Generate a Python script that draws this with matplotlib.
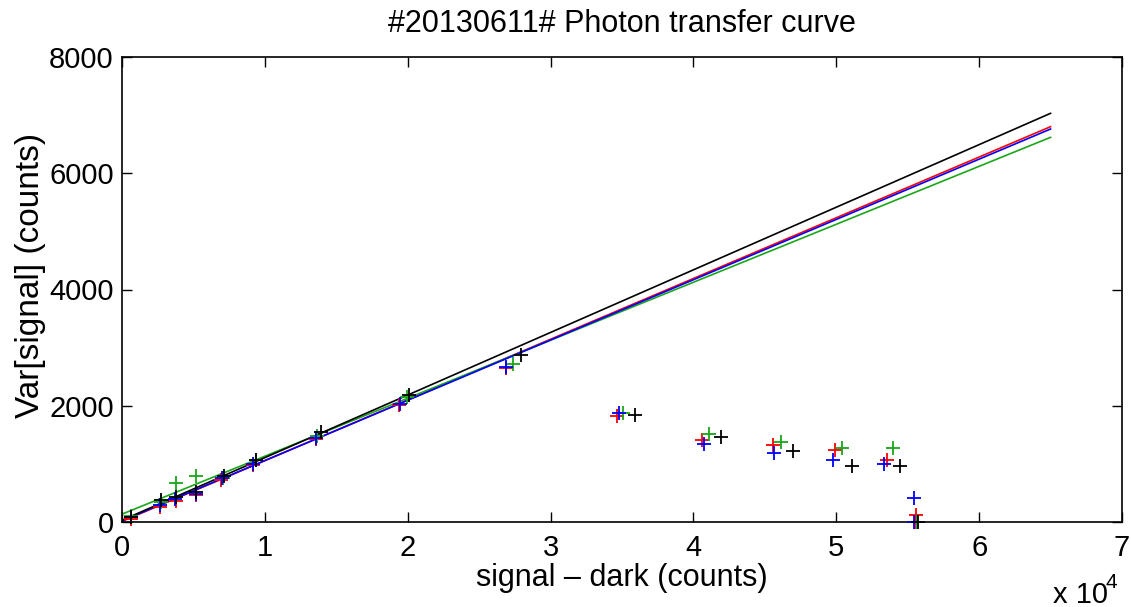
import matplotlib
matplotlib.use("Agg")
import matplotlib.pyplot as plt
import numpy as np
from matplotlib.ticker import FuncFormatter, MultipleLocator

plt.rcParams['font.family'] = ['Liberation Sans', 'DejaVu Sans']

# ---- data (signal - dark, Var[signal]) ----
red_x = [600, 2650, 3750, 5150, 6950, 9190, 13560, 19420, 26880, 34670, 40580, 45590, 49910, 53570, 55580, 55520]
red_y = [60, 250, 360, 470, 720, 980, 1430, 2005, 2650, 1824, 1411, 1325, 1239, 1067, 125, 0]

green_x = [620, 2700, 3750, 5180, 7050, 9380, 13680, 19970, 27350, 35090, 41110, 46130, 50410, 53990, 55650]
green_y = [110, 340, 666, 791, 760, 1075, 1480, 2146, 2718, 1880, 1514, 1371, 1268, 1279, 0]

blue_x = [620, 2660, 3700, 5150, 6980, 9190, 13560, 19460, 26880, 34810, 40760, 45660, 49790, 53360, 55460, 55460]
blue_y = [80, 292, 400, 490, 750, 990, 1440, 2025, 2672, 1880, 1337, 1182, 1067, 992, 407, 0]

black_x = [650, 2730, 3757, 5180, 7160, 9380, 13930, 20110, 27900, 35910, 41930, 46990, 51070, 54460, 55700]
black_y = [90, 370, 425, 521, 800, 1067, 1554, 2185, 2873, 1846, 1457, 1221, 969, 969, 0]

# linear fits (slope, intercept) per channel, drawn over this x range
fit_range = [0, 65000]
fit_slope = {'red': 0.10448, 'green': 0.09974, 'blue': 0.10371, 'black': 0.10771}
fit_intercept = {'red': 10, 'green': 135, 'blue': 20, 'black': 30}

colors = {'red': (1, 0, 0), 'green': (0.1, 0.65, 0.1), 'blue': (0, 0, 1), 'black': (0, 0, 0)}
series = [('red', red_x, red_y), ('green', green_x, green_y),
          ('blue', blue_x, blue_y), ('black', black_x, black_y)]

fig = plt.figure(figsize=(11.31, 6.07), dpi=100)
ax = fig.add_axes([122/1131, 1-522/607, 1000/1131, 465/607])

xf = np.array(fit_range, dtype=float)
for name, xs, ys in series:
    c = colors[name]
    ax.plot(xs, ys, linestyle='none', marker='+', markersize=10, markeredgewidth=1.3,
            color=c, clip_on=False, zorder=3)
for name, xs, ys in series:
    c = colors[name]
    ax.plot(xf, fit_slope[name]*xf + fit_intercept[name], color=c, linewidth=1.2, zorder=2)

ax.set_xlim(0, 70000)
ax.set_ylim(0, 8000)
ax.xaxis.set_major_locator(MultipleLocator(10000))
ax.yaxis.set_major_locator(MultipleLocator(2000))
ax.xaxis.set_major_formatter(FuncFormatter(lambda v, p: f"{v/1e4:g}"))
ax.tick_params(direction='in', length=7, width=1.0, top=True, right=True,
               labelsize=21, colors='black')
ax.tick_params(axis='x', pad=9)
ax.tick_params(axis='y', pad=6)
for s in ax.spines.values():
    s.set_linewidth(1.2)

ax.set_title('#20130611# Photon transfer curve', fontsize=22, pad=18)
ax.set_xlabel('signal \u2013 dark (counts)', fontsize=22)
ax.xaxis.set_label_coords(0.5, -0.137)
ax.xaxis.label.set_va('baseline')
ax.set_ylabel('Var[signal] (counts)', fontsize=24)
ax.yaxis.set_label_coords(-0.076, 0.53)

fig.text(1053/1131, 1-603/607, 'x 10', fontsize=21, ha='left', va='baseline')
fig.text(1106/1131, 1-588/607, '4', fontsize=15, ha='left', va='baseline')

fig.savefig('out.png', dpi=100)
